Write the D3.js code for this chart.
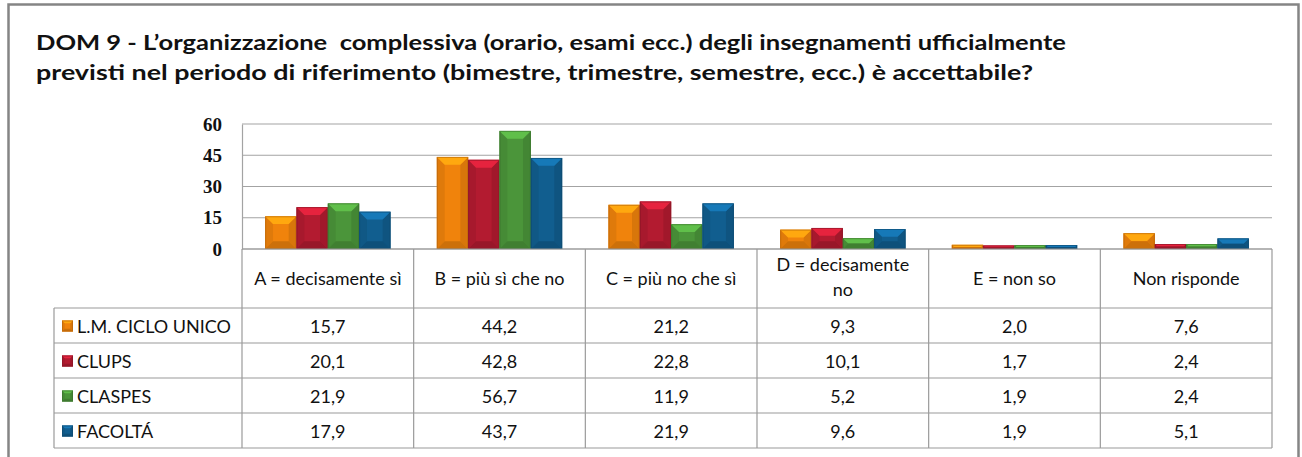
<!DOCTYPE html>
<html>
<head>
<meta charset="utf-8">
<script src="https://cdn.jsdelivr.net/npm/d3@7/dist/d3.min.js"></script>
<style>
  body { margin: 0; background: #fff; }
  text { font-family: Lato, "Open Sans", sans-serif; fill: #111; }
</style>
</head>
<body>
<div id="chart"></div>
<script>
// data
const categories = ["A = decisamente sì", "B = più sì che no", "C = più no che sì", "D = decisamente no", "E = non so", "Non risponde"];
const series = ["L.M. CICLO UNICO", "CLUPS", "CLASPES", "FACOLTÁ"];
const lmCicloUnico = [15.7, 44.2, 21.2, 9.3, 2.0, 7.6];
const clups = [20.1, 42.8, 22.8, 10.1, 1.7, 2.4];
const claspes = [21.9, 56.7, 11.9, 5.2, 1.9, 2.4];
const facolta = [17.9, 43.7, 21.9, 9.6, 1.9, 5.1];
const yTicks = [0, 15, 30, 45, 60];
const titleLines = [
  "DOM 9 - L’organizzazione  complessiva (orario, esami ecc.) degli insegnamenti ufficialmente",
  "previsti nel periodo di riferimento (bimestre, trimestre, semestre, ecc.) è accettabile?"
];

const values = [lmCicloUnico, clups, claspes, facolta];
const colors = ["#F0830C", "#B31B30", "#4B953A", "#115E8F"];

const W = 1302, H = 457;
const plotL = 242, plotR = 1272, plotT = 124, plotB = 249;
const rowH = 35, headH = 59, legendX = 54;
const fs = 18;

let svg = d3.select("#chart").append("svg")
  .attr("width", W)
  .attr("height", H);

// outer frame
svg.append("rect")
  .attr("x", 8.5).attr("y", 4.5)
  .attr("width", 1290).attr("height", 480)
  .attr("fill", "#fff")
  .attr("stroke", "#858585")
  .attr("stroke-width", 2.5);

// title
svg.selectAll(".title")
  .data(titleLines)
  .join("text")
  .attr("class", "title")
  .attr("x", 36)
  .attr("y", (d, i) => 50 + i * 30)
  .attr("font-size", 21)
  .attr("font-weight", "bold")
  .style("white-space", "pre")
  .attr("textLength", (d, i) => i == 0 ? 1030 : 997)
  .attr("lengthAdjust", "spacingAndGlyphs")
  .text(d => d);

// scales
let x0 = d3.scaleBand().domain(categories).range([plotL, plotR]);
let colW = x0.bandwidth();
let x1 = d3.scaleBand().domain(series).range([colW * 0.135, colW * 0.865]);
let y = d3.scaleLinear().domain([0, 60]).range([plotB, plotT]);

// gridlines
svg.selectAll(".grid")
  .data(yTicks)
  .join("line")
  .attr("x1", plotL).attr("x2", plotR)
  .attr("y1", d => y(d)).attr("y2", d => y(d))
  .attr("stroke", "#a3a3a3")
  .attr("stroke-width", 1.2);

// y axis
let yAxis = d3.axisLeft(y).tickValues(yTicks).tickSize(0).tickPadding(20);
let gy = svg.append("g").attr("transform", `translate(${plotL},0)`).call(yAxis);
gy.select(".domain").attr("stroke", "#a3a3a3").attr("stroke-width", 1.2);
gy.selectAll("text")
  .style("font-family", "'Liberation Serif', 'DejaVu Serif', serif")
  .attr("font-size", 19)
  .attr("font-weight", "bold")
  .attr("fill", "#111");

// bevelled bar
function bevelBar(g, x, yy, w, h, col, bmax) {
  let c = d3.color(col);
  let b = Math.min(bmax, h / 2, w / 4);
  g.append("rect").attr("x", x).attr("y", yy).attr("width", w).attr("height", h).attr("fill", col);
  // sides
  g.append("polygon")
    .attr("points", [[x, yy], [x + b, yy + b], [x + b, yy + h - b], [x, yy + h]].join(" "))
    .attr("fill", c.darker(0.2));
  g.append("polygon")
    .attr("points", [[x + w, yy], [x + w - b, yy + b], [x + w - b, yy + h - b], [x + w, yy + h]].join(" "))
    .attr("fill", c.darker(0.3));
  // top
  g.append("polygon")
    .attr("points", [[x, yy], [x + w, yy], [x + w - b, yy + b], [x + b, yy + b]].join(" "))
    .attr("fill", c.brighter(0.7));
  // bottom
  g.append("polygon")
    .attr("points", [[x, yy + h], [x + w, yy + h], [x + w - b, yy + h - b], [x + b, yy + h - b]].join(" "))
    .attr("fill", c.darker(0.45));
  g.append("rect").attr("x", x + 0.5).attr("y", yy + 0.5).attr("width", w - 1).attr("height", Math.max(0, h - 1))
    .attr("fill", "none").attr("stroke", c.darker(0.8)).attr("stroke-width", 1).attr("stroke-opacity", 0.6);
}

let bars = svg.append("g");
series.forEach((s, si) => {
  categories.forEach((cat, ci) => {
    let v = values[si][ci];
    let bx = x0(cat) + x1(s);
    bevelBar(bars, bx, y(v), x1.bandwidth(), plotB - y(v), colors[si], 8);
  });
});

// data table
let tbl = svg.append("g");
let tableBottom = plotB + headH + rowH * series.length;
let lineCol = "#9a9a9a";

// horizontal lines
tbl.append("line").attr("x1", plotL).attr("x2", plotR).attr("y1", plotB).attr("y2", plotB)
  .attr("stroke", lineCol).attr("stroke-width", 1.2);
d3.range(series.length + 1).forEach(i => {
  let yy = plotB + headH + i * rowH;
  tbl.append("line").attr("x1", legendX).attr("x2", plotR).attr("y1", yy).attr("y2", yy)
    .attr("stroke", lineCol).attr("stroke-width", 1.2);
});
// vertical lines
tbl.append("line").attr("x1", legendX).attr("x2", legendX).attr("y1", plotB + headH).attr("y2", tableBottom)
  .attr("stroke", lineCol).attr("stroke-width", 1.2);
categories.concat([null]).forEach((cat, i) => {
  let xx = plotL + i * colW;
  tbl.append("line").attr("x1", xx).attr("x2", xx).attr("y1", plotB).attr("y2", tableBottom)
    .attr("stroke", lineCol).attr("stroke-width", 1.2);
});

// header labels (wrapped when too wide)
categories.forEach(cat => {
  let cx = x0(cat) + colW / 2;
  let t = tbl.append("text").attr("x", cx).attr("text-anchor", "middle").attr("font-size", fs).text(cat);
  if (t.node().getComputedTextLength() > colW - 20) {
    let words = cat.split(" ");
    let last = words.pop();
    t.remove();
    [words.join(" "), last].forEach((ln, li) => {
      tbl.append("text").attr("x", cx).attr("y", plotB + 22 + li * 25)
        .attr("text-anchor", "middle").attr("font-size", fs).text(ln);
    });
  } else {
    t.attr("y", plotB + headH / 2 + 6);
  }
});

// rows
let fmt = v => d3.format(".1f")(v).replace(".", ",");
series.forEach((s, si) => {
  let ry = plotB + headH + si * rowH;
  bevelBar(tbl, legendX + 8, ry + rowH / 2 - 5, 11, 11, colors[si], 3);
  tbl.append("text").attr("x", legendX + 23).attr("y", ry + rowH / 2 + 7)
    .attr("font-size", fs).text(s);
  categories.forEach((cat, ci) => {
    tbl.append("text").attr("x", x0(cat) + colW / 2).attr("y", ry + rowH / 2 + 7)
      .attr("text-anchor", "middle").attr("font-size", fs).text(fmt(values[si][ci]));
  });
});
</script>
</body>
</html>
